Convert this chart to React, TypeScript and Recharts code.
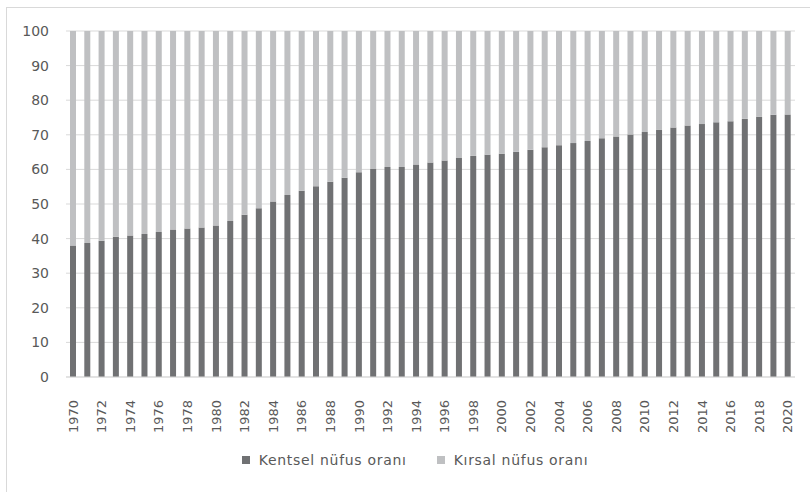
import React from "react";
import { BarChart, Bar, XAxis, YAxis, CartesianGrid, Legend } from "recharts";

const YEARS = [
  1970, 1971, 1972, 1973, 1974, 1975, 1976, 1977, 1978, 1979,
  1980, 1981, 1982, 1983, 1984, 1985, 1986, 1987, 1988, 1989,
  1990, 1991, 1992, 1993, 1994, 1995, 1996, 1997, 1998, 1999,
  2000, 2001, 2002, 2003, 2004, 2005, 2006, 2007, 2008, 2009,
  2010, 2011, 2012, 2013, 2014, 2015, 2016, 2017, 2018, 2019, 2020,
];

// kentsel (urban) share, %
const URBAN = [
  38.0, 38.7, 39.4, 40.5, 40.9, 41.3, 41.9, 42.6, 42.9, 43.2,
  43.8, 45.1, 46.9, 48.8, 50.7, 52.6, 53.8, 55.1, 56.4, 57.6,
  59.2, 60.1, 60.7, 60.7, 61.4, 62.0, 62.6, 63.3, 63.9, 64.2,
  64.5, 65.1, 65.7, 66.4, 67.0, 67.6, 68.2, 69.0, 69.5, 70.1,
  70.8, 71.4, 72.1, 72.7, 73.1, 73.6, 73.9, 74.6, 75.2, 75.8, 75.9,
];

// kırsal (rural) share = remainder to 100
const RURAL = URBAN.map((u) => Math.round((100 - u) * 10) / 10);

const Y_TICKS = [0, 10, 20, 30, 40, 50, 60, 70, 80, 90, 100];

const data = YEARS.map((y, i) => ({ year: y, urban: URBAN[i], rural: RURAL[i] }));

const FONT = "'DejaVu Sans', sans-serif";
const TEXT = "#595959";

function YearTick({ x, y, payload }: any) {
  return (
    <text
      x={x}
      y={y + 15}
      transform={`rotate(-90, ${x}, ${y + 15})`}
      textAnchor="end"
      dominantBaseline="central"
      fill={TEXT}
      fontSize={13}
      fontFamily={FONT}
    >
      {payload.value}
    </text>
  );
}

function LegendBox({ payload }: any) {
  return (
    <div style={{ display: "flex", justifyContent: "center", fontFamily: FONT, fontSize: 14, color: TEXT, letterSpacing: 0.7 }}>
      {(payload || []).map((p: any, i: number) => (
        <div key={p.value} style={{ display: "flex", alignItems: "center", marginLeft: i ? 30 : 0 }}>
          <span style={{ width: 8, height: 8, background: p.color, marginRight: 9, display: "inline-block" }} />
          <span>{p.value}</span>
        </div>
      ))}
    </div>
  );
}

export default function App() {
  return (
    <div style={{ position: "relative", width: 810, height: 492, background: "#fff" }}>
      <style>{`body{margin:0}`}</style>
      <div
        style={{
          position: "absolute", left: 6, top: 7, width: 820, height: 500,
          borderLeft: "1px solid #d9d9d9", borderTop: "1px solid #d9d9d9",
        }}
      />
      <BarChart
        width={810}
        height={492}
        data={data}
        margin={{ top: 31, right: 15, left: 0, bottom: 65 }}
        style={{ position: "absolute", left: 0, top: 0 }}
      >
        <CartesianGrid vertical={false} stroke="#d9d9d9" />
        <XAxis
          dataKey="year"
          interval={1}
          height={50}
          tickLine={false}
          axisLine={{ stroke: "#d9d9d9" }}
          tick={<YearTick />}
        />
        <YAxis
          width={66}
          domain={[0, 100]}
          ticks={Y_TICKS}
          axisLine={false}
          tickLine={false}
          tickSize={0}
          tickMargin={17}
          tick={{ fill: TEXT, fontSize: 14, fontFamily: FONT }}
        />
        <Legend
          verticalAlign="middle"
          align="center"
          content={<LegendBox />}
          wrapperStyle={{ top: 452, left: 0, width: 830 }}
        />
        <Bar dataKey="urban" name="Kentsel nüfus oranı" stackId="a" fill="#707173" barSize={6} isAnimationActive={false} />
        <Bar dataKey="rural" name="Kırsal nüfus oranı" stackId="a" fill="#bfc0c2" barSize={6} isAnimationActive={false} />
      </BarChart>
    </div>
  );
}
